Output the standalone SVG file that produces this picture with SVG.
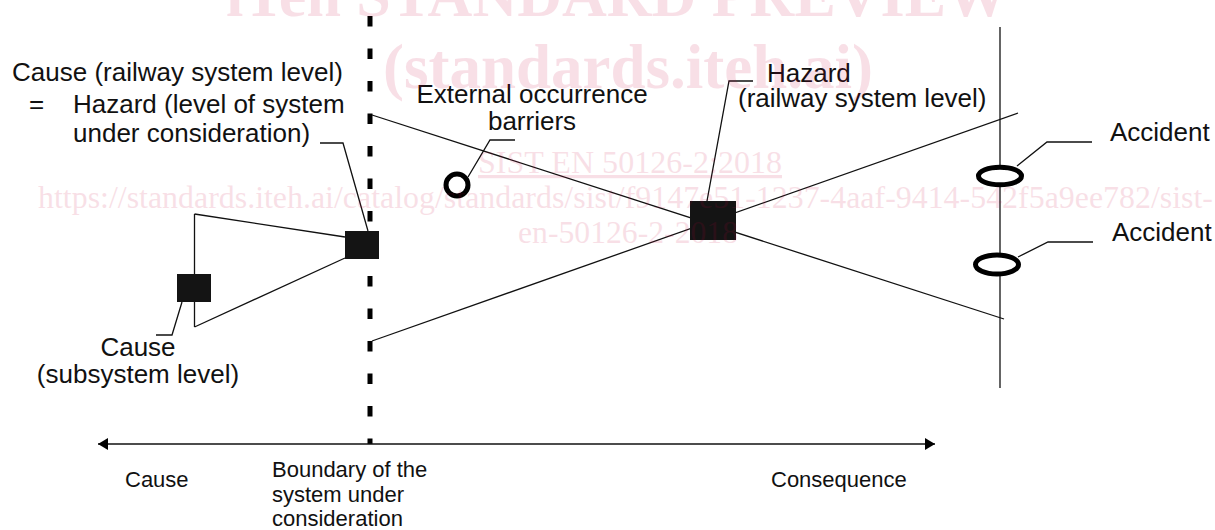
<svg xmlns="http://www.w3.org/2000/svg" width="1215" height="530" viewBox="0 0 1215 530">
<style>
.ln{fill:none;stroke:#111;stroke-width:1.3}
.t{font-family:"Liberation Sans",Arial,sans-serif;font-size:26px;fill:#111}
.tb{font-family:"Liberation Sans",Arial,sans-serif;font-size:22px;fill:#111}
.box{fill:#141414}
.ring{fill:#fff;stroke:#000;stroke-width:5}
.wm{font-family:"Liberation Serif","Times New Roman",serif;fill:#c8003c;opacity:0.12}
</style>
<defs>
<marker id="ah" viewBox="0 0 10 12" refX="10" refY="6" markerWidth="10" markerHeight="12" markerUnits="userSpaceOnUse" orient="auto-start-reverse">
<path d="M0,0 L10,6 L0,12 z" fill="#000"/>
</marker>
</defs>
<rect width="1215" height="530" fill="#fff"/>
<g id="connectors">
<line x1="370" y1="16" x2="370" y2="444" stroke="#000" stroke-width="5" stroke-dasharray="10.5 22"/>
<polyline class="ln" points="194.5,214 194.5,327"/>
<polyline class="ln" points="194.5,214 345,237"/>
<polyline class="ln" points="194.5,327 345,258"/>
<polyline class="ln" points="182,302 172,335 156,335"/>
<polyline class="ln" points="320,143 343,143 368,231"/>
<line class="ln" x1="372" y1="115" x2="1004" y2="319"/>
<line class="ln" x1="372" y1="341" x2="1018" y2="113"/>
<polyline class="ln" points="707,201 729,81 753,81"/>
<polyline class="ln" points="468,177 490,140 515,140"/>
<line class="ln" x1="1000" y1="27" x2="1000" y2="388"/>
<polyline class="ln" points="1017,166 1047,142 1092,142"/>
<polyline class="ln" points="1018,257 1048,242 1093,242"/>
<line class="ln" x1="98" y1="444" x2="935" y2="444" marker-start="url(#ah)" marker-end="url(#ah)"/>
</g>
<g id="hazard-boundary">
<rect class="box" x="345" y="231" width="34" height="28"/>
<text class="t" x="12" y="81">Cause (railway system level)</text>
<text class="t" x="29" y="113">=</text>
<text class="t" x="73" y="113">Hazard (level of system</text>
<text class="t" x="73" y="142">under consideration)</text>
</g>
<g id="cause-subsystem">
<rect class="box" x="177" y="274" width="34" height="28"/>
<text class="t" x="138" y="356" text-anchor="middle">Cause</text>
<text class="t" x="138" y="383" text-anchor="middle">(subsystem level)</text>
</g>
<g id="barrier">
<circle class="ring" cx="457" cy="185" r="11"/>
<text class="t" x="532" y="103" text-anchor="middle">External occurrence</text>
<text class="t" x="532" y="130" text-anchor="middle">barriers</text>
</g>
<g id="hazard-railway">
<rect class="box" x="690" y="201" width="46" height="39"/>
<text class="t" x="767" y="82">Hazard</text>
<text class="t" x="738" y="107">(railway system level)</text>
</g>
<g id="accident-1">
<ellipse class="ring" cx="1000" cy="176" rx="21.5" ry="8.8"/>
<text class="t" x="1110" y="141">Accident</text>
</g>
<g id="accident-2">
<ellipse class="ring" cx="997" cy="264.5" rx="21.5" ry="9.5"/>
<text class="t" x="1112" y="241">Accident</text>
</g>
<g id="axis-labels">
<text class="tb" x="125" y="487">Cause</text>
<text class="tb" x="272" y="477">Boundary of the</text>
<text class="tb" x="272" y="502">system under</text>
<text class="tb" x="272" y="526">consideration</text>
<text class="tb" x="771" y="487">Consequence</text>
</g>
<g id="watermark">
<text class="wm" x="617" y="16" font-size="62" font-weight="bold" text-anchor="middle">iTeh STANDARD PREVIEW</text>
<text class="wm" x="628" y="88" font-size="63" font-weight="bold" text-anchor="middle">(standards.iteh.ai)</text>
<text class="wm" x="478" y="173" font-size="32" text-decoration="underline" textLength="304" lengthAdjust="spacingAndGlyphs">SIST EN 50126-2:2018</text>
<text class="wm" x="38" y="208" font-size="32" textLength="1175" lengthAdjust="spacingAndGlyphs">https://standards.iteh.ai/catalog/standards/sist/f9147e51-1237-4aaf-9414-542f5a9ee782/sist-</text>
<text class="wm" x="518" y="243" font-size="32" textLength="220" lengthAdjust="spacingAndGlyphs">en-50126-2-2018</text>
</g>
</svg>
